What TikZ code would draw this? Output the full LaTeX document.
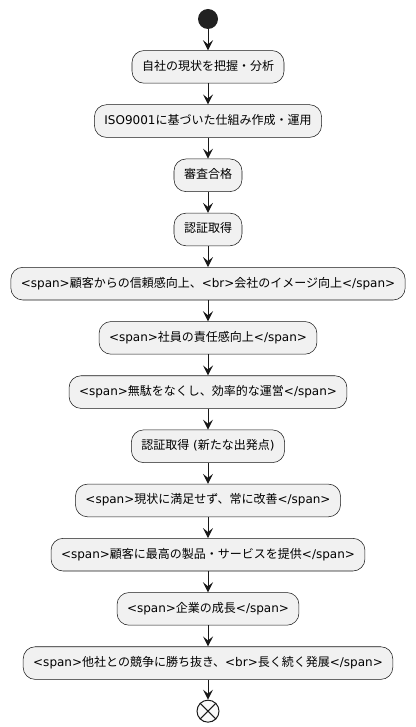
\documentclass[tikz,border=0pt]{standalone}
\usepackage{fontspec}
\setmainfont{DejaVu Sans}
\newfontfamily\cjkfont{Noto Sans CJK JP}
\newfontfamily\latinfont{DejaVu Sans}
\usetikzlibrary{positioning,arrows.meta}
\definecolor{actfill}{HTML}{F1F1F1}
\definecolor{actline}{HTML}{181818}

% CJK characters switch to the Japanese font
\XeTeXinterchartokenstate=1
\newXeTeXintercharclass\cjkcls
\count255="3000
\loop \XeTeXcharclass\count255=\cjkcls \ifnum\count255<"9FFF \advance\count255 by 1 \repeat
\count255="FF00
\loop \XeTeXcharclass\count255=\cjkcls \ifnum\count255<"FFEF \advance\count255 by 1 \repeat
\XeTeXinterchartoks 0 \cjkcls = {\cjkfont}
\XeTeXinterchartoks 4095 \cjkcls = {\cjkfont}
\XeTeXinterchartoks \cjkcls 0 = {\latinfont}
\XeTeXinterchartoks \cjkcls 4095 = {\latinfont}

\begin{document}
\begin{tikzpicture}[
    node distance=15.75pt,
    act/.style={draw=actline, line width=0.4pt, rounded corners=9pt, fill=actfill, minimum height=24.5pt, text height=7pt, text depth=2pt, inner ysep=0pt, inner xsep=7.5pt, font=\fontsize{9}{11}\selectfont},
    arrow/.style={-{Stealth[length=7.5pt,width=7.5pt,inset=3pt]}, actline, line width=0.75pt}
]
\useasboundingbox (0,0) rectangle (311.25pt,-545.25pt);

\node[circle, fill=black!87, minimum size=15pt, inner sep=0pt] (start) at (156pt,-14.25pt) {};
\node[act, below=of start] (analyze) {自社の現状を把握・分析};
\node[act, below=of analyze] (iso) {ISO9001に基づいた仕組み作成・運用};
\node[act, below=of iso] (audit) {審査合格};
\node[act, below=of audit] (cert) {認証取得};
\node[act, below=of cert] (trust) {<span>顧客からの信頼感向上、<br>会社のイメージ向上</span>};
\node[act, below=of trust] (staff) {<span>社員の責任感向上</span>};
\node[act, below=of staff] (waste) {<span>無駄をなくし、効率的な運営</span>};
\node[act, below=of waste] (restart) {認証取得 (新たな出発点)};
\node[act, below=of restart] (improve) {<span>現状に満足せず、常に改善</span>};
\node[act, below=of improve] (service) {<span>顧客に最高の製品・サービスを提供</span>};
\node[act, below=of service] (growth) {<span>企業の成長</span>};
\node[act, below=of growth] (compete) {<span>他社との競争に勝ち抜き、<br>長く続く発展</span>};
\node[circle, draw=actline, line width=0.75pt, fill=actfill!40, minimum size=16.5pt, inner sep=0pt, below=15pt of compete] (stop) {};
\draw[actline, line width=0.75pt] (stop.north west) -- (stop.south east) (stop.north east) -- (stop.south west);

\draw[arrow] (start) -- (analyze);
\draw[arrow] (analyze) -- (iso);
\draw[arrow] (iso) -- (audit);
\draw[arrow] (audit) -- (cert);
\draw[arrow] (cert) -- (trust);
\draw[arrow] (trust) -- (staff);
\draw[arrow] (staff) -- (waste);
\draw[arrow] (waste) -- (restart);
\draw[arrow] (restart) -- (improve);
\draw[arrow] (improve) -- (service);
\draw[arrow] (service) -- (growth);
\draw[arrow] (growth) -- (compete);
\draw[arrow] (compete) -- (stop);

\end{tikzpicture}
\end{document}
